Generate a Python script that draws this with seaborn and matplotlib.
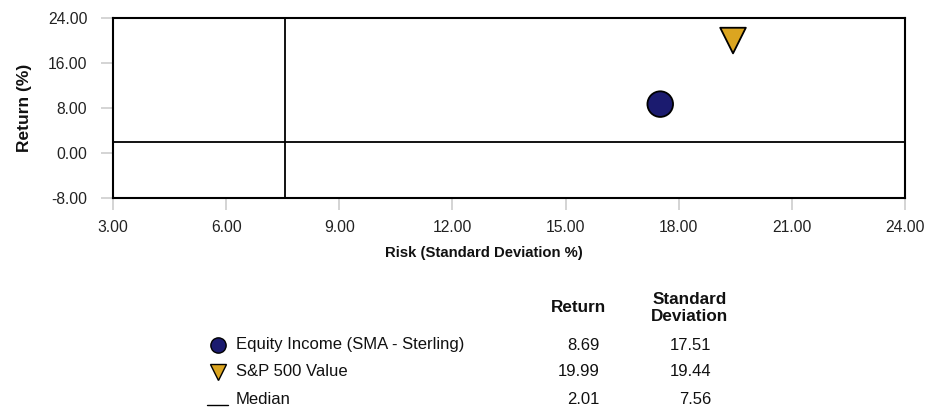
import matplotlib
matplotlib.use("Agg")
import matplotlib.pyplot as plt
import seaborn as sns
import pandas as pd
from matplotlib.lines import Line2D

# Portfolio risk / return data
names = ["Equity Income (SMA - Sterling)", "S&P 500 Value"]
returns = [8.69, 19.99]
std_devs = [17.51, 19.44]
markers = ["o", "v"]
colors = ["#1b1b6f", "#dba520"]

median_return = 2.01
median_std = 7.56

x_ticks = [3, 6, 9, 12, 15, 18, 21, 24]
y_ticks = [-8, 0, 8, 16, 24]

sns.set_theme(style="white")
plt.rcParams["font.family"] = ["Liberation Sans", "DejaVu Sans"]

df = pd.DataFrame({"name": names, "ret": returns, "sd": std_devs})

fig = plt.figure(figsize=(9.4, 4.12), dpi=100)
ax = fig.add_axes([113 / 940, 1 - 198 / 412, 792 / 940, 180 / 412])

# Median crosshair
ax.axhline(median_return, color="black", lw=1.3, zorder=2)
ax.axvline(median_std, color="black", lw=1.3, zorder=2)

sns.scatterplot(data=df, x="sd", y="ret", hue="name", style="name",
                markers=dict(zip(names, markers)),
                palette=dict(zip(names, colors)),
                s=340, edgecolor="black", linewidth=1.3, legend=False,
                ax=ax, zorder=3)

ax.set_xlim(3, 24)
ax.set_ylim(-8, 24)
ax.set_xticks(x_ticks)
ax.set_yticks(y_ticks)
ax.set_xticklabels([f"{v:.2f}" for v in x_ticks], fontsize=11.3)
ax.set_yticklabels([f"{v:.2f}" for v in y_ticks], fontsize=11.3)
ax.tick_params(axis="x", length=8.5, width=1.4, color="#d4d4d4", pad=7.5, labelcolor="#222222")
ax.tick_params(axis="y", length=9, width=1.4, color="#d4d4d4", pad=9.5, labelcolor="#222222")
ax.tick_params(bottom=True, left=True)
for sp in ax.spines.values():
    sp.set_color("black")
    sp.set_linewidth(1.5)
ax.set_xlabel("")
ax.set_ylabel("")

fig.text(484 / 940, 1 - 253 / 412, "Risk (Standard Deviation %)", ha="center", va="center",
         fontsize=10.7, fontweight="bold", color="#111111")
fig.text(25 / 940, 1 - 108 / 412, "Return (%)", ha="center", va="center", rotation=90,
         fontsize=12.5, fontweight="bold", color="#111111")

# Summary table below the chart
tab = fig.add_axes([0, 0, 1, 1], zorder=-1)
tab.set_xlim(0, 940)
tab.set_ylim(412, 0)
tab.axis("off")

fs = 12
tab.text(578, 308, "Return", ha="center", va="center", fontsize=12.3, fontweight="bold",
         color="#111111")
tab.text(690, 308, "Standard\nDeviation", ha="center", va="center", fontsize=12.3,
         fontweight="bold", linespacing=1.15, color="#111111")

row_y = [345, 372, 399]
for i, (n, r, s, m, c) in enumerate(zip(names, returns, std_devs, markers, colors)):
    y = row_y[i]
    tab.plot([218], [y], marker=m, ms=11 if m == "o" else 11.5, color=c,
             markeredgecolor="black", markeredgewidth=1.0, ls="none")
    tab.text(236, y, n, ha="left", va="center", fontsize=fs, color="#111111")
    tab.text(600, y, f"{r:.2f}", ha="right", va="center", fontsize=fs, color="#111111")
    tab.text(711, y, f"{s:.2f}", ha="right", va="center", fontsize=fs, color="#111111")

y = row_y[2]
tab.add_line(Line2D([207, 228], [y + 6, y + 6], color="black", lw=1.0))
tab.text(236, y, "Median", ha="left", va="center", fontsize=fs, color="#111111")
tab.text(600, y, f"{median_return:.2f}", ha="right", va="center", fontsize=fs, color="#111111")
tab.text(711, y, f"{median_std:.2f}", ha="right", va="center", fontsize=fs, color="#111111")

fig.savefig("out.png", dpi=100, facecolor="white")
